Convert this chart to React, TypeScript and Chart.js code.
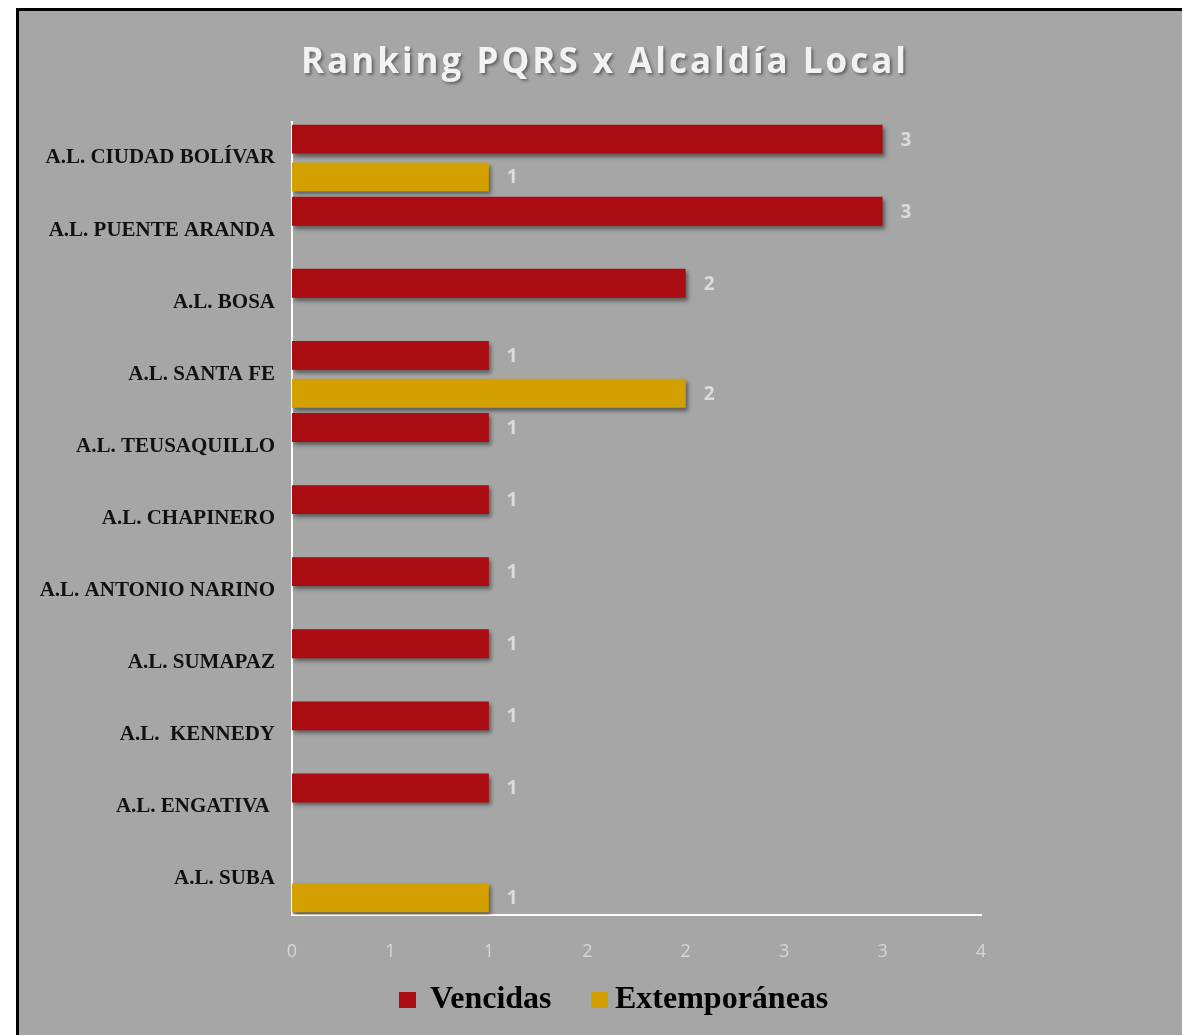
import React, { useEffect, useRef } from "react";
import { Chart, registerables } from "chart.js";

Chart.register(...registerables);

const categories = [
  "A.L. CIUDAD BOLÍVAR",
  "A.L. PUENTE ARANDA",
  "A.L. BOSA",
  "A.L. SANTA FE",
  "A.L. TEUSAQUILLO",
  "A.L. CHAPINERO",
  "A.L. ANTONIO NARINO",
  "A.L. SUMAPAZ",
  "A.L.  KENNEDY",
  "A.L. ENGATIVA ",
  "A.L. SUBA",
];
const vencidas = [3, 3, 2, 1, 1, 1, 1, 1, 1, 1, null];
const extemporaneas = [1, null, null, 2, null, null, null, null, null, null, 1];
const xTickLabels = ["0", "1", "1", "2", "2", "3", "3", "4"];
const titleText = "Ranking PQRS x Alcaldía Local";
const seriesNames = ["Vencidas", "Extemporáneas"];
const seriesColors = ["#AB0C11", "#D2A000"];

const W = 1163;
const H = 1024;

export default function App() {
  const ref = useRef<HTMLCanvasElement | null>(null);

  useEffect(() => {
    if (!ref.current) return;

    const shadowPlugin = {
      id: "barShadow",
      beforeDatasetDraw(chart: any) {
        const ctx = chart.ctx;
        ctx.save();
        ctx.shadowColor = "rgba(0,0,0,0.45)";
        ctx.shadowBlur = 4;
        ctx.shadowOffsetX = 2;
        ctx.shadowOffsetY = 3;
      },
      afterDatasetDraw(chart: any) {
        chart.ctx.restore();
      },
    };

    const labelPlugin = {
      id: "valueLabels",
      afterDatasetsDraw(chart: any) {
        const ctx = chart.ctx;
        ctx.save();
        ctx.font = "bold 19px 'Open Sans'";
        ctx.fillStyle = "#DCDCDC";
        ctx.textAlign = "left";
        ctx.textBaseline = "middle";
        chart.data.datasets.forEach((ds: any, di: number) => {
          const meta = chart.getDatasetMeta(di);
          meta.data.forEach((el: any, i: number) => {
            const v = ds.data[i];
            if (v === null || v === undefined) return;
            ctx.fillText(String(v), el.x + 18, el.y + 1);
          });
        });
        ctx.restore();
      },
    };

    const decorPlugin = {
      id: "decor",
      afterDraw(chart: any) {
        const ctx = chart.ctx;
        // Title
        ctx.save();
        ctx.font = "bold 35px 'Open Sans'";
        (ctx as any).letterSpacing = "3px";
        ctx.textAlign = "center";
        ctx.textBaseline = "middle";
        ctx.shadowColor = "rgba(0,0,0,0.4)";
        ctx.shadowBlur = 3;
        ctx.shadowOffsetX = 2;
        ctx.shadowOffsetY = 2;
        ctx.fillStyle = "#F2F2F2";
        ctx.fillText(titleText, 586, 52);
        ctx.restore();

        // Legend
        ctx.save();
        ctx.font = "bold 32px 'Liberation Serif'";
        ctx.textBaseline = "alphabetic";
        ctx.textAlign = "left";
        const boxes = [380, 572];
        const texts = [411, 596];
        seriesNames.forEach((name, i) => {
          ctx.fillStyle = seriesColors[i];
          ctx.fillRect(boxes[i], 981, 17, 16);
          ctx.fillStyle = "#000000";
          ctx.fillText(name, texts[i], 997);
        });
        ctx.restore();
      },
    };

    const chart = new Chart(ref.current, {
      type: "bar",
      data: {
        labels: categories,
        datasets: [
          {
            label: seriesNames[0],
            data: vencidas,
            backgroundColor: seriesColors[0],
            categoryPercentage: 1.05,
            barPercentage: 0.763,
          },
          {
            label: seriesNames[1],
            data: extemporaneas,
            backgroundColor: seriesColors[1],
            categoryPercentage: 1.05,
            barPercentage: 0.763,
          },
        ],
      },
      options: {
        indexAxis: "y",
        animation: false,
        responsive: false,
        devicePixelRatio: 1,
        layout: { padding: { top: 111, right: 201, left: 0, bottom: 0 } },
        plugins: {
          legend: { display: false },
          title: { display: false },
          tooltip: { enabled: false },
        },
        scales: {
          x: {
            type: "linear",
            min: 0,
            max: 3.5,
            grid: { display: false },
            border: { display: true, color: "#FFFFFF", width: 2 },
            ticks: {
              stepSize: 0.5,
              color: "#D6D6D6",
              font: { family: "'Open Sans'", size: 18 },
              padding: 18,
              callback: (_v: any, i: number) => xTickLabels[i],
            },
            afterFit: (scale: any) => {
              scale.height = 120;
            },
          },
          y: {
            type: "category",
            grid: { display: false },
            border: { display: true, color: "#FFFFFF", width: 2 },
            ticks: {
              color: "#111111",
              font: { family: "'Liberation Serif'", size: 21, weight: "bold" },
              padding: 9,
              autoSkip: false,
            },
            afterFit: (scale: any) => {
              scale.width = 273;
            },
          },
        },
      },
      plugins: [shadowPlugin, labelPlugin, decorPlugin],
    } as any);

    return () => chart.destroy();
  }, []);

  return (
    <div
      style={{
        position: "absolute",
        left: 16,
        top: 8,
        width: 1166,
        height: 1027,
        boxSizing: "border-box",
        borderLeft: "3px solid #000",
        borderTop: "3px solid #000",
        background: "#A6A6A6",
        overflow: "hidden",
      }}
    >
      <canvas ref={ref} width={W} height={H} style={{ display: "block", width: W, height: H }} />
    </div>
  );
}
